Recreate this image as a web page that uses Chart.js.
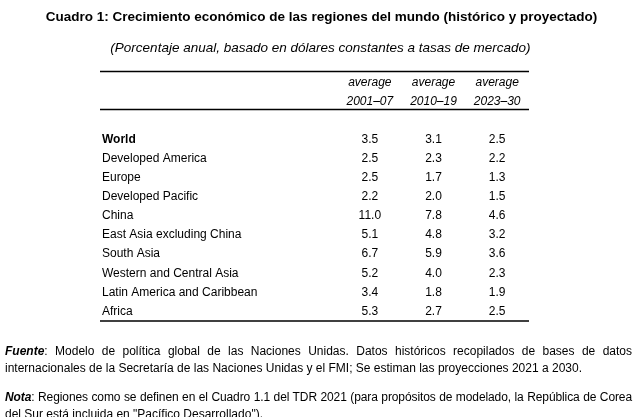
<!DOCTYPE html>
<html>
<head>
<meta charset="utf-8">
<script src="https://cdn.jsdelivr.net/npm/chart.js@4/dist/chart.umd.min.js"></script>
<style>
  html, body { margin: 0; padding: 0; background: #fff; }
  body { width: 643px; height: 417px; position: relative; overflow: hidden; font-family: 'Liberation Sans', Arial, sans-serif; color: #000; }
  #wrap { position: absolute; left: 0; top: 0; width: 643px; height: 417px; }
  .title { position: absolute; left: 0; width: 643px; text-align: center; white-space: nowrap; }
  #t1 { top: 9px; font-weight: bold; font-size: 13.5px; }
  #t2 { top: 40px; left: -1px; font-style: italic; font-size: 13.5px; }
  #notes { position: absolute; left: 5px; width: 627px; top: 343px; font-size: 12px; line-height: 17px; }
  #notes .ln { white-space: nowrap; }
  #notes .just { text-align: justify; text-align-last: justify; white-space: normal; }
  #notes .gap { height: 12px; }
  #notes b { font-style: italic; }
</style>
</head>
<body>
<div id="wrap"><canvas id="c" width="643" height="417"></canvas></div>
<div class="title" id="t1">Cuadro 1: Crecimiento económico de las regiones del mundo (histórico y proyectado)</div>
<div class="title" id="t2">(Porcentaje anual, basado en dólares constantes a tasas de mercado)</div>
<div id="notes">
  <div class="ln just"><b>Fuente</b>: Modelo de política global de las Naciones Unidas. Datos históricos recopilados de bases de datos</div>
  <div class="ln">internacionales de la Secretaría de las Naciones Unidas y el FMI; Se estiman las proyecciones 2021 a 2030.</div>
  <div class="gap"></div>
  <div class="ln just" style="letter-spacing:-0.1px"><b>Nota</b>: Regiones como se definen en el Cuadro 1.1 del TDR 2021 (para propósitos de modelado, la República de Corea</div>
  <div class="ln">del Sur está incluida en "Pacífico Desarrollado").</div>
</div>
<script>
const regions = [
  "World",
  "Developed America",
  "Europe",
  "Developed Pacific",
  "China",
  "East Asia excluding China",
  "South Asia",
  "Western and Central Asia",
  "Latin America and Caribbean",
  "Africa"
];
const periods = ["2001–07", "2010–19", "2023–30"];
const headerPrefix = "average";
const growth2001_07 = [3.5, 2.5, 2.5, 2.2, 11.0, 5.1, 6.7, 5.2, 3.4, 5.3];
const growth2010_19 = [3.1, 2.3, 1.7, 2.0, 7.8, 4.8, 5.9, 4.0, 1.8, 2.7];
const growth2023_30 = [2.5, 2.2, 1.3, 1.5, 4.6, 3.2, 3.6, 2.3, 1.9, 2.5];

const seriesList = [growth2001_07, growth2010_19, growth2023_30];
const FONT = "'Liberation Sans', Arial, sans-serif";

const datasets = seriesList.map((vals, ci) => ({
  label: periods[ci],
  data: vals.map((v, ri) => ({ x: periods[ci], y: regions[ri], v: v })),
  pointRadius: 0,
  pointHoverRadius: 0,
  showLine: false
}));

const tablePlugin = {
  id: 'tablePlugin',
  afterDraw(chart) {
    const ctx = chart.ctx;
    const area = chart.chartArea;
    const xs = chart.scales.x;
    ctx.save();
    // rules
    ctx.strokeStyle = '#000';
    ctx.lineWidth = 1.5;
    const left = 100, right = area.right;
    [71.5, 109.5, area.bottom].forEach(y => {
      ctx.beginPath(); ctx.moveTo(left, y); ctx.lineTo(right, y); ctx.stroke();
    });
    // column headers
    ctx.fillStyle = '#000';
    ctx.textAlign = 'center';
    ctx.textBaseline = 'middle';
    ctx.font = "italic 12px " + FONT;
    periods.forEach((p, i) => {
      const x = xs.getPixelForValue(i);
      ctx.fillText(headerPrefix, x, 83);
      ctx.fillText(p, x, 102);
    });
    // cell values
    ctx.font = "12px " + FONT;
    chart.data.datasets.forEach((ds, di) => {
      const meta = chart.getDatasetMeta(di);
      meta.data.forEach((el, i) => {
        ctx.fillText(ds.data[i].v.toFixed(1), el.x, el.y);
      });
    });
    ctx.restore();
  }
};

new Chart(document.getElementById('c'), {
  type: 'scatter',
  data: { datasets },
  options: {
    responsive: false,
    animation: false,
    events: [],
    layout: { padding: { left: 102, right: 114, top: 130, bottom: 96 } },
    plugins: { legend: { display: false }, tooltip: { enabled: false }, title: { display: false } },
    scales: {
      x: {
        type: 'category',
        labels: periods,
        offset: true,
        display: false
      },
      y: {
        type: 'category',
        labels: regions,
        offset: true,
        position: 'left',
        grid: { display: false, drawTicks: false },
        border: { display: false },
        afterFit(scale) { scale.width = 236; },
        ticks: {
          crossAlign: 'far',
          color: '#000',
          padding: 0,
          font: (c) => ({ family: FONT, size: 12, weight: c.index === 0 ? 'bold' : 'normal' })
        }
      }
    }
  },
  plugins: [tablePlugin]
});
</script>
</body>
</html>
